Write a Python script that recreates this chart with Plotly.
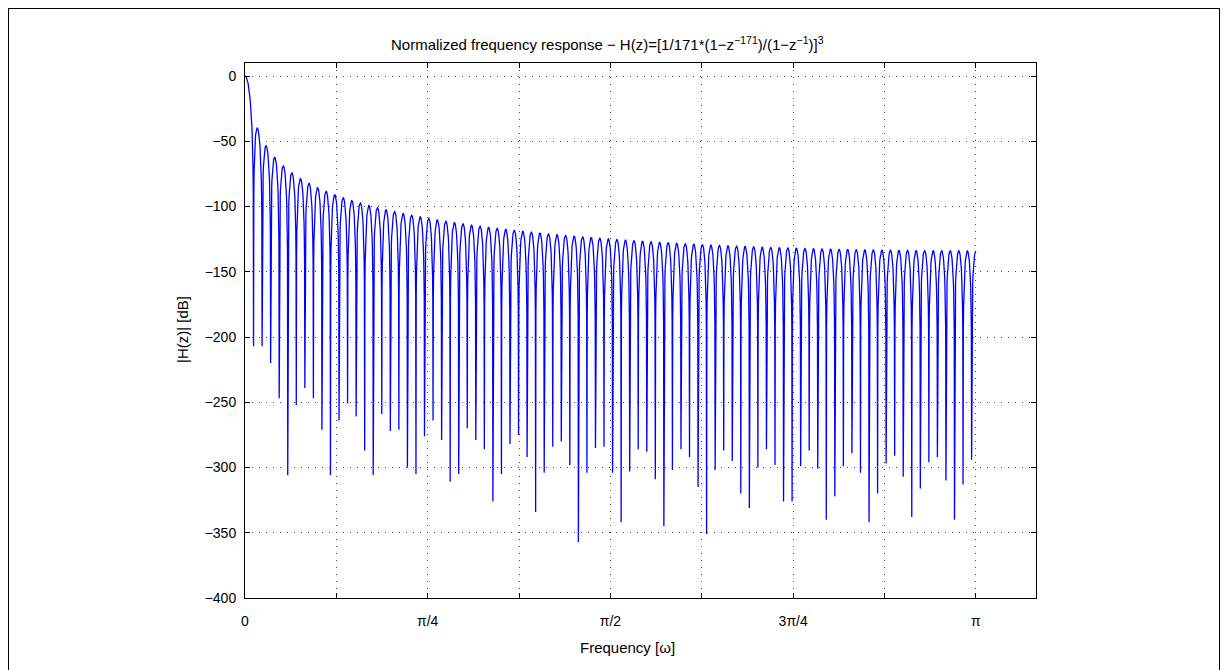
import numpy as np
import plotly.graph_objects as go

# CIC filter from the title: H(z) = [1/R * (1 - z^-R) / (1 - z^-1)]^N
R = 171
N = 3

# depth of each of the 85 nulls (k*2*pi/R); numeric floor of the plot
null_depth_db = [-207, -207, -220, -247, -306, -252, -239, -247, -271, -306,
                 -264, -251, -261, -287, -306, -259, -272, -271, -300, -305,
                 -276, -264, -279, -311, -305, -270, -279, -286, -326, -305,
                 -282, -275, -292, -334, -304, -284, -280, -298, -357, -304,
                 -285, -284, -304, -342, -303, -286, -288, -309, -345, -302,
                 -286, -292, -315, -351, -302, -287, -295, -320, -331, -300,
                 -286, -298, -326, -326, -299, -287, -301, -340, -322, -299,
                 -289, -304, -342, -320, -297, -291, -307, -338, -316, -296,
                 -292, -310, -340, -313, -294]

x_tick_vals = [k * np.pi / 4 for k in range(5)]
x_tick_text = ["0", "π/4", "π/2", "3π/4", "π"]
x_minor_vals = [k * np.pi / 8 for k in (1, 3, 5, 7)]
y_tick_vals = list(range(-400, 1, 50))

oversample = 16
w = np.linspace(0, np.pi, R * oversample + 1)
with np.errstate(divide="ignore", invalid="ignore"):
    mag = np.abs(np.sin(R * w / 2) / (R * np.sin(w / 2)))
mag[0] = 1.0
with np.errstate(divide="ignore"):
    h_db = 20 * N * np.log10(mag)
for k, d in enumerate(null_depth_db, start=1):
    h_db[2 * oversample * k] = d

fig = go.Figure()
fig.add_trace(go.Scatter(x=w, y=h_db, mode="lines",
                         line=dict(color="#0000ff", width=1.3),
                         hoverinfo="skip", showlegend=False))

# page has an 8px body margin, so positions below are in figure pixels
L, Rm, T, B = 237, 200, 55, 80
W, Ht = 1228, 670
pw, ph = W - L - Rm, Ht - T - B


def px(x):
    return (x - L) / pw


def py(y):
    return (Ht - B - y) / ph


font = dict(family="Liberation Sans, Arial, sans-serif", size=14, color="black")
big = dict(font, size=15)
grid = dict(showgrid=True, gridcolor="#444444", gridwidth=1, griddash="1px,6px")

fig.update_layout(
    width=W, height=Ht, autosize=False,
    margin=dict(l=L, r=Rm, t=T, b=B),
    paper_bgcolor="white", plot_bgcolor="white",
    font=font,
    xaxis=dict(range=[0, 3.4], tickvals=x_tick_vals, ticktext=x_tick_text,
               showline=True, linecolor="black", linewidth=1, mirror="ticks",
               ticks="inside", ticklen=5, tickcolor="black",
               minor=dict(tickvals=x_minor_vals, ticks="inside", ticklen=5,
                          tickcolor="black", **grid),
               zeroline=False, ticklabelstandoff=10, **grid),
    yaxis=dict(range=[-400, 10], tickvals=y_tick_vals,
               showline=True, linecolor="black", linewidth=1, mirror="ticks",
               ticks="inside", ticklen=5, tickcolor="black",
               zeroline=False, ticklabelstandoff=5, **grid),
    annotations=[
        dict(text="Normalized frequency response − H(z)=[1/171*(1−z<sup>−171</sup>)/(1−z<sup>−1</sup>)]<sup>3</sup>",
             xref="paper", yref="paper", x=px(599), y=py(35), showarrow=False,
             xanchor="center", yanchor="middle", font=big),
        dict(text="Frequency [ω]", xref="paper", yref="paper", x=px(619), y=py(639),
             showarrow=False, xanchor="center", yanchor="middle", font=big),
        dict(text="|H(z)| [dB]", xref="paper", yref="paper", x=px(174), y=py(322),
             showarrow=False, xanchor="center", yanchor="middle", textangle=-90, font=big),
    ],
    shapes=[dict(type="rect", xref="paper", yref="paper",
                 x0=px(0), x1=px(1212), y0=py(690), y1=py(0),
                 line=dict(color="black", width=2), fillcolor="rgba(0,0,0,0)", layer="above")],
)

fig.write_html("out.html", config={"displayModeBar": False})
